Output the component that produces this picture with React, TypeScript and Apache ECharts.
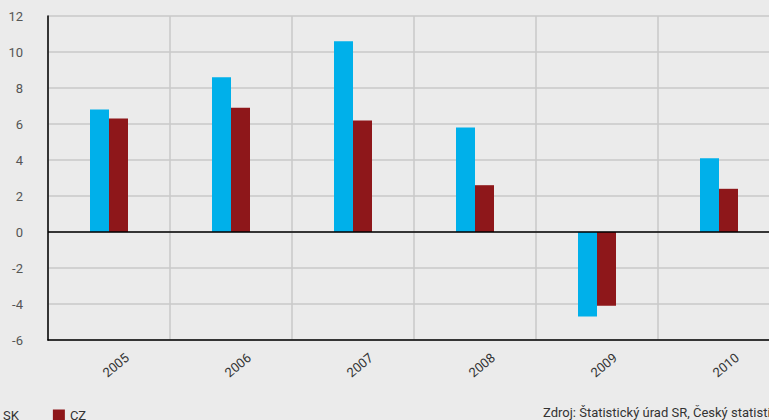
import React, { useEffect, useRef } from "react";
import * as echarts from "echarts";

const years = ["2005", "2006", "2007", "2008", "2009", "2010"];
const skValues = [6.8, 8.6, 10.6, 5.8, -4.7, 4.1];
const czValues = [6.3, 6.9, 6.2, 2.6, -4.1, 2.4];
const yTicks = { min: -6, max: 12, interval: 2 };
const sourceText = "Zdroj: Štatistický úrad SR, Český statistický úrad";

const FONT = "'Liberation Sans Narrow', 'Arial Narrow', 'Roboto', sans-serif";
const SHIFT = 30;

export default function App() {
  const ref = useRef<HTMLDivElement>(null);
  useEffect(() => {
    if (!ref.current) return;
    const chart = echarts.init(ref.current, null, { renderer: "svg" });
    chart.setOption({
      animation: false,
      backgroundColor: "#ebebeb",
      textStyle: { fontFamily: FONT },
      grid: { left: 48 + SHIFT, top: 16, width: 732, height: 324, containLabel: false },
      legend: {
        left: SHIFT - 19,
        top: 404,
        itemWidth: 12,
        itemHeight: 12,
        itemGap: 34,
        icon: "rect",
        textStyle: { fontFamily: FONT, fontSize: 13, color: "#333" },
        data: ["SK", "CZ"],
      },
      xAxis: {
        type: "category",
        data: years,
        boundaryGap: true,
        axisLine: { onZero: false, lineStyle: { color: "#000", width: 1.5 } },
        axisTick: { show: false },
        splitLine: { show: true, lineStyle: { color: "#c8c8c8", width: 1.5 } },
        axisLabel: {
          rotate: 40,
          align: "center",
          verticalAlign: "middle",
          margin: 31,
          padding: [0, 0, 0, 18],
          fontFamily: FONT,
          fontSize: 13,
          color: "#333",
        },
      },
      yAxis: {
        type: "value",
        min: yTicks.min,
        max: yTicks.max,
        interval: yTicks.interval,
        axisLine: { show: true, lineStyle: { color: "#000", width: 1.5 } },
        axisTick: { show: false },
        splitLine: { show: true, lineStyle: { color: "#c8c8c8", width: 1.5 } },
        axisLabel: {
          margin: 25,
          fontFamily: FONT,
          fontSize: 13,
          color: "#555",
          formatter: (v: number) => String(v),
        },
      },
      series: [
        {
          name: "SK",
          type: "bar",
          data: skValues,
          barWidth: 19,
          barGap: "0%",
          itemStyle: { color: "#00b0ea" },
          markLine: {
            silent: true,
            symbol: "none",
            label: { show: false },
            lineStyle: { color: "#000", width: 1.5, type: "solid" },
            data: [{ yAxis: 0 }],
          },
          z: 2,
        },
        {
          name: "CZ",
          type: "bar",
          data: czValues,
          barWidth: 19,
          barGap: "0%",
          itemStyle: { color: "#8e171a" },
          z: 2,
        },
      ],
      graphic: [
        {
          type: "text",
          left: 543 + SHIFT,
          top: 406,
          style: {
            text: sourceText,
            fontFamily: FONT,
            fontSize: 13,
            fill: "#333",
          },
        },
      ],
    });
    return () => chart.dispose();
  }, []);
  return (
    <div
      style={{
        position: "absolute",
        left: 0,
        top: 0,
        width: 769,
        height: 420,
        overflow: "hidden",
      }}
    >
      <div
        ref={ref}
        style={{ position: "absolute", left: -SHIFT, top: 0, width: 860, height: 420 }}
      />
    </div>
  );
}
